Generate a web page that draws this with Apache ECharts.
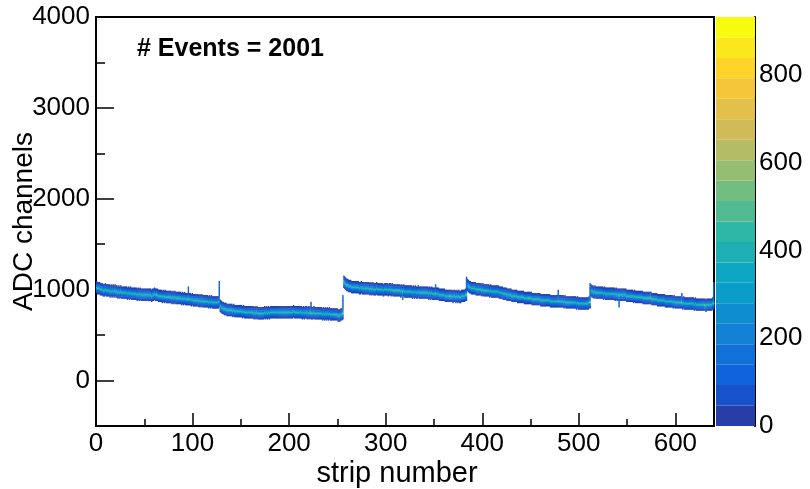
<!DOCTYPE html>
<html><head><meta charset="utf-8">
<script src="https://cdn.jsdelivr.net/npm/echarts@6/dist/echarts.min.js"></script>
<style>html,body{margin:0;padding:0;background:#fff}#c{width:810px;height:489px}</style>
</head><body><div id="c"></div>
<script>
// ---------------- data ----------------
const nEvents = 2001;
const labelText = '# Events = ' + nEvents;
const xName = 'strip number';
const yName = 'ADC channels';
const xMin = 0, xMax = 640;
const yMin = -500, yMax = 4000;
const zMax = 933;
const nLevels = 20;
const binSize = 12;
// counts per ADC bin around the pedestal of one strip (offsets in bins)
const profileOffsets = [-5, -4, -3, -2, -1, 0, 1, 2, 3, 4, 5];
const profileCounts  = [15, 50, 110, 180, 300, 460, 300, 180, 110, 50, 15];

// pedestal (ADC) per strip, 128 strips per chip
const chip0 = [
1030,1022,1018,1012,1008,1002,1006,998,995,1000,993,996,990,992,987,990,
985,988,982,990,978,984,975,980,972,977,970,975,968,972,965,970,
962,968,960,964,958,962,955,960,952,958,950,955,948,952,945,950,
946,950,944,948,942,950,946,940,944,938,946,950,952,948,944,940,
936,932,930,934,926,930,924,928,920,925,918,922,916,920,914,918,
912,916,910,914,906,912,904,908,902,906,898,904,896,900,894,898,
892,896,888,894,886,890,884,888,880,884,878,882,876,880,872,878,
872,876,870,874,866,872,864,868,862,866,860,864,858,862,860,870];
const chip1 = [
830,815,805,798,792,790,785,782,780,776,778,772,775,770,772,768,
768,764,766,762,764,760,762,758,760,756,758,754,756,752,754,750,
752,748,750,746,748,745,748,744,746,742,745,742,746,744,748,745,
748,744,750,746,748,752,748,754,750,752,748,754,750,756,752,750,
754,750,756,752,758,752,756,750,754,758,752,756,760,754,758,752,
756,750,754,748,752,746,750,744,748,752,746,750,744,748,746,742,
745,748,742,746,740,744,738,742,736,740,734,738,732,736,734,738,
732,736,730,734,728,732,726,730,724,728,720,722,718,724,735,740];
const chip2 = [
1095,1080,1068,1058,1050,1045,1040,1036,1034,1030,1032,1028,1030,1026,1028,1024,
1022,1020,1024,1018,1022,1016,1020,1014,1018,1012,1016,1010,1014,1008,1012,1006,
1010,1006,1012,1004,1008,1002,1006,1000,1004,998,1002,1006,1000,1004,998,1002,
1000,996,1000,994,998,992,996,990,994,988,992,986,990,984,988,982,
986,980,984,978,982,976,980,974,978,972,976,970,974,978,972,975,
970,974,968,972,966,970,964,968,962,966,960,964,958,962,956,960,
954,958,952,950,948,944,946,940,942,936,938,934,936,930,932,928,
930,926,932,928,926,930,924,928,922,926,930,928,932,936,940,940];
const chip3 = [
1048,1038,1030,1024,1020,1016,1018,1012,1014,1008,1010,1004,1006,1000,1002,998,
1000,996,998,992,994,988,990,986,988,984,986,982,984,978,980,976,
976,972,970,966,964,960,958,956,952,950,946,944,942,940,938,934,
934,930,932,928,926,924,922,920,918,916,916,914,912,910,912,908,
906,904,906,902,900,902,898,896,898,894,892,894,890,888,890,886,
886,884,886,882,880,882,878,876,878,874,876,872,874,870,874,872,
872,870,868,870,866,868,864,866,862,864,860,862,858,862,860,856,
858,854,856,852,854,850,852,848,854,850,846,852,848,850,856,860];
const chip4 = [
995,985,980,975,978,972,974,968,970,966,968,964,966,962,964,960,
962,958,960,956,958,954,956,952,954,950,952,948,950,946,948,944,
946,942,944,940,942,938,936,934,932,930,928,930,926,928,924,926,
922,924,920,918,920,916,914,912,910,912,908,910,906,904,906,902,
900,898,896,894,892,890,888,890,886,884,882,880,882,878,876,878,
874,872,870,872,868,866,868,864,862,860,862,858,860,856,858,854,
856,852,854,850,852,848,850,846,848,844,846,842,844,840,842,838,
840,836,838,834,836,832,834,830,836,832,838,834,840,842,848,850];
const pedestal = [].concat(chip0, chip1, chip2, chip3, chip4);

// noisy strips: the far end (ADC) that their tail reaches, counts per bin along it
const tailStrips = [62, 95, 127, 222, 255, 256, 317, 351, 366, 383, 448, 478, 511, 541, 574, 606, 630, 639];
const tailEnds   = [985, 1035, 1092, 860, 935, 1150, 895, 1056, 900, 1135, 880, 990, 1060, 815, 960, 960, 790, 1080];
const tailCount = 110;

// ---------------- palette (ROOT kBird, 20 contours) ----------------
const stops = [
 [0.2082,0.1664,0.5293],[0.0592,0.3599,0.8684],[0.0780,0.5041,0.8385],
 [0.0232,0.6419,0.7914],[0.1802,0.7178,0.6425],[0.5301,0.7492,0.4662],
 [0.8186,0.7328,0.3499],[0.9956,0.7862,0.1968],[0.9764,0.9832,0.0539]];
function bird(f){
  const p = f*(stops.length-1); const i = Math.min(stops.length-2, Math.floor(p)); const t = p-i;
  const c = stops[i].map((v,k)=>Math.round(255*(v+(stops[i+1][k]-v)*t)));
  return 'rgb('+c.join(',')+')';
}
const levelColors = [];
for (let i=0;i<nLevels;i++){ const idx = Math.floor((i+0.99)*255/nLevels); levelColors.push(bird(idx/254)); }
const levelW = zMax/nLevels;

// ---------------- cells ----------------
const cellMap = new Map();
function addCell(s, b, c){ const key = s*100000+b; cellMap.set(key, (cellMap.get(key)||0)+c); }
pedestal.forEach((ped, s)=>{
  const b0 = Math.floor((ped - yMin)/binSize);
  profileOffsets.forEach((k, j)=> addCell(s, b0+k, profileCounts[j]));
});
tailStrips.forEach((s, j)=>{
  const ped = pedestal[s], end = tailEnds[j];
  const bA = Math.floor((Math.min(ped,end) - yMin)/binSize), bB = Math.floor((Math.max(ped,end) - yMin)/binSize);
  for (let b=bA;b<=bB;b++) addCell(s, b, tailCount);
});
const cells = [];
cellMap.forEach((c, key)=>{ const s = Math.floor(key/100000), b = key%100000; const lo = yMin + b*binSize; cells.push([s, lo, lo+binSize, c]); });

// ---------------- chart ----------------
const FONT = 'Liberation Sans, Arial, Helvetica, sans-serif';
const tickStyle = {color:'#000', width:1.5};
const noLine = {show:false, onZero:false};
const chart = echarts.init(document.getElementById('c'));
const gridL = 96, gridT = 17, gridW = 618, gridH = 409;
chart.setOption({
  animation:false,
  backgroundColor:'#fff',
  grid:[
    {left:gridL, top:gridT, width:gridW, height:gridH, show:true, borderColor:'#000', borderWidth:2, backgroundColor:'transparent', containLabel:false, outerBoundsMode:'none'},
    {left:716, top:gridT, width:39, height:gridH, containLabel:false, outerBoundsMode:'none'}
  ],
  xAxis:[
    {gridIndex:0, type:'value', position:'bottom', min:xMin, max:xMax, interval:100, axisLine:noLine,
     axisTick:{inside:true, length:13, lineStyle:tickStyle}, splitLine:{show:false},
     axisLabel:{fontSize:26, color:'#000', fontFamily:FONT, margin:5, formatter:v=> (v%100===0 ? String(v) : '')},
     name:xName, nameLocation:'middle', nameGap:33, nameMoveOverlap:false,
     nameTextStyle:{fontSize:29, color:'#000', fontFamily:FONT, padding:[0,16,0,0]}},
    {gridIndex:0, type:'value', position:'bottom', min:xMin, max:xMax, interval:50, axisLine:noLine,
     axisTick:{inside:true, length:7, lineStyle:tickStyle}, axisLabel:{show:false}, splitLine:{show:false}},
    {gridIndex:1, type:'category', data:['z'], show:false}
  ],
  yAxis:[
    {gridIndex:0, type:'value', position:'left', min:yMin, max:yMax, interval:500, axisLine:noLine,
     axisTick:{inside:true, length:9, lineStyle:tickStyle}, axisLabel:{show:false}, splitLine:{show:false}},
    {gridIndex:0, type:'value', position:'left', inverse:true, min:0, max:yMax-yMin, interval:1000, axisLine:noLine,
     axisTick:{inside:true, length:18, lineStyle:tickStyle}, splitLine:{show:false},
     axisLabel:{fontSize:26, color:'#000', fontFamily:FONT, margin:6, formatter:v=> (v>yMax ? '' : String(yMax-v))},
     name:yName, nameLocation:'middle', nameGap:58, nameMoveOverlap:false,
     nameTextStyle:{fontSize:28, color:'#000', fontFamily:FONT}},
    {gridIndex:1, type:'value', min:0, max:zMax, interval:200, position:'right',
     axisLine:{show:true, onZero:false, lineStyle:{color:'#000', width:2}},
     axisTick:{inside:true, length:18, lineStyle:tickStyle}, splitLine:{show:false},
     axisLabel:{fontSize:26, color:'#000', fontFamily:FONT, margin:4, formatter:v=> (v%200===0 ? String(v) : '')}}
  ],
  visualMap:{type:'piecewise', show:false, dimension:3, seriesIndex:0,
    pieces: levelColors.map((c,i)=> i===nLevels-1 ? {gte:i*levelW, color:c} : {gte:i*levelW, lt:(i+1)*levelW, color:c})},
  graphic:[{type:'text', left:137, top:37, style:{text:labelText, font:'bold 25px '+FONT, fill:'#000'}}],
  series:[
    {type:'custom', xAxisIndex:0, yAxisIndex:0, clip:true, data:cells, encode:{x:0, y:[1,2]}, silent:true,
     renderItem:(params, api)=>{
       const x0 = api.value(0), lo = api.value(1), hi = api.value(2);
       const a = api.coord([x0, hi]), b = api.coord([x0+1, lo]);
       return {type:'rect', shape:{x:a[0], y:a[1], width:b[0]-a[0]+0.4, height:b[1]-a[1]+0.4}, style:{fill:api.visual('color')}};
     }}
  ].concat(levelColors.map(c=>({type:'bar', xAxisIndex:2, yAxisIndex:2, stack:'cb', data:[levelW], barWidth:'100%', silent:true, itemStyle:{color:c}})))
});
</script></body></html>
